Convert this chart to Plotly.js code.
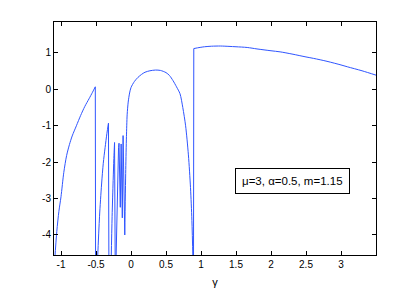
<!DOCTYPE html>
<html>
<head>
<meta charset="utf-8">
<script src="https://cdn.plot.ly/plotly-3.0.1.min.js"></script>
<style>
html,body{margin:0;padding:0;background:#fff;}
#chart{width:415px;height:291px;}
</style>
</head>
<body>
<div id="chart"></div>
<script>
// Branch pieces (gamma, value); -4.7 = below the visible range
const rise1X = [-1.09, -1.06, -1.03, -1.0, -0.96, -0.92, -0.88, -0.84, -0.78, -0.72, -0.66, -0.6, -0.55, -0.51];
const rise1Y = [-4.7, -3.9, -3.35, -2.95, -2.28, -1.82, -1.52, -1.28, -1.0, -0.72, -0.47, -0.26, -0.08, 0.07];
const drop1X = [-0.51, -0.506];
const drop1Y = [0.07, -4.7];

const rise2X = [-0.478, -0.45, -0.42, -0.396, -0.37, -0.345, -0.322];
const rise2Y = [-4.7, -3.5, -2.6, -2.03, -1.6, -1.22, -0.93];
const drop2X = [-0.322, -0.316];
const drop2Y = [-0.93, -4.7];

const rise3X = [-0.283, -0.27, -0.255, -0.245, -0.235];
const rise3Y = [-4.7, -3.5, -2.5, -1.9, -1.46];
const drop3X = [-0.235, -0.226];
const drop3Y = [-1.46, -4.7];

const oscX = [-0.214, -0.2, -0.188, -0.178, -0.171, -0.153, -0.141, -0.124, -0.113, -0.089];
const oscY = [-4.7, -3.2, -2.2, -1.6, -1.48, -3.24, -1.5, -3.53, -1.27, -4.0];

const archX = [-0.089, -0.075, -0.065, -0.055, -0.04, -0.02, 0.0, 0.05, 0.1, 0.15, 0.2, 0.27, 0.35, 0.42,
               0.5, 0.55, 0.6, 0.65, 0.7, 0.74, 0.78, 0.82, 0.85, 0.87, 0.885];
const archY = [-4.0, -2.2, -1.3, -0.7, -0.35, -0.1, 0.05, 0.22, 0.33, 0.41, 0.47, 0.51, 0.53, 0.52,
               0.46, 0.38, 0.24, 0.07, -0.12, -0.5, -1.0, -1.8, -2.7, -3.6, -4.7];

const jumpX = [0.893, 0.897];
const jumpY = [-4.7, 1.12];

const tailX = [0.897, 0.95, 1.05, 1.15, 1.28, 1.4, 1.5, 1.66, 1.8, 2.0, 2.13, 2.3, 2.5, 2.61, 2.8, 3.0, 3.09, 3.3, 3.5];
const tailY = [1.12, 1.14, 1.17, 1.185, 1.19, 1.18, 1.17, 1.15, 1.11, 1.06, 1.03, 0.97, 0.89, 0.85, 0.77, 0.67, 0.62, 0.51, 0.39];

const xTickVals = [-1, -0.5, 0, 0.5, 1, 1.5, 2, 2.5, 3];
const xTickText = ['-1', '-0.5', '0', '0.5', '1', '1.5', '2', '2.5', '3'];
const yTickVals = [-4, -3, -2, -1, 0, 1];
const yTickText = ['-4', '-3', '-2', '-1', '0', '1'];

const labelText = 'μ=3, α=0.5, m=1.15';
const xTitle = 'γ';

const pieces = [
  [rise1X, rise1Y, 'spline'], [drop1X, drop1Y, 'linear'],
  [rise2X, rise2Y, 'spline'], [drop2X, drop2Y, 'linear'],
  [rise3X, rise3Y, 'spline'], [drop3X, drop3Y, 'linear'],
  [oscX, oscY, 'linear'],
  [archX, archY, 'spline'],
  [jumpX, jumpY, 'linear'],
  [tailX, tailY, 'spline']
];

const traces = pieces.map(p => ({
  x: p[0], y: p[1], type: 'scatter', mode: 'lines',
  line: {color: '#2f55ff', width: 1, shape: p[2], smoothing: 0.8},
  hoverinfo: 'skip'
}));

const fontFam = 'Liberation Sans, Arial, sans-serif';
const axisCommon = {
  showline: true, linecolor: '#000', linewidth: 1, mirror: 'ticks',
  ticks: 'inside', ticklen: 4, tickcolor: '#000', tickwidth: 1,
  showgrid: false, zeroline: false,
  tickfont: {family: fontFam, size: 10, color: '#000'},
  tickmode: 'array'
};

const layout = {
  width: 415, height: 291,
  margin: {l: 54, r: 39, t: 22, b: 36},
  paper_bgcolor: '#fff', plot_bgcolor: '#fff',
  showlegend: false,
  xaxis: Object.assign({}, axisCommon, {
    range: [-1.1, 3.5], tickvals: xTickVals, ticktext: xTickText,
    title: {text: xTitle, font: {family: fontFam, size: 11, color: '#000'}, standoff: 9}
  }),
  yaxis: Object.assign({}, axisCommon, {
    range: [-4.55, 1.85], tickvals: yTickVals, ticktext: yTickText
  }),
  annotations: [{
    xref: 'paper', yref: 'paper', x: 0.7416, y: 0.317,
    xanchor: 'center', yanchor: 'middle', showarrow: false,
    text: labelText,
    font: {family: fontFam, size: 11.5, color: '#000'},
    bordercolor: '#000', borderwidth: 1, borderpad: 6, bgcolor: '#fff'
  }]
};

Plotly.newPlot('chart', traces, layout, {displayModeBar: false, staticPlot: true});
</script>
</body>
</html>
